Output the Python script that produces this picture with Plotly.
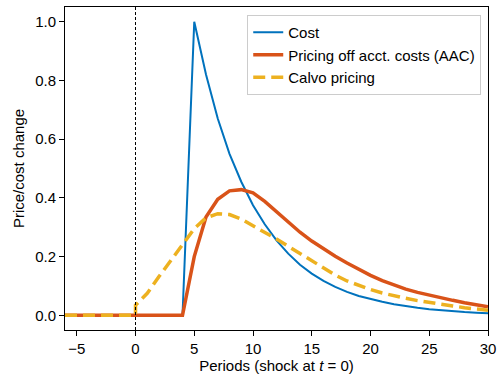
import plotly.graph_objects as go

# Impulse responses to a cost shock at t = 0
periods = list(range(-6, 31))

cost = [0, 0, 0, 0, 0, 0,            # t = -6 .. -1
        0, 0, 0, 0, 0,               # t = 0 .. 4
        1.0, 0.82, 0.67, 0.55, 0.455, 0.375, 0.31, 0.255, 0.21, 0.172,
        0.142, 0.117, 0.097, 0.08, 0.066, 0.055, 0.046, 0.038, 0.031, 0.026,
        0.021, 0.017, 0.014, 0.011, 0.009, 0.007]

aac = [0, 0, 0, 0, 0, 0,
       0, 0, 0, 0, 0,
       0.20, 0.335, 0.395, 0.424, 0.428, 0.417, 0.388, 0.352, 0.316, 0.283,
       0.253, 0.226, 0.201, 0.178, 0.156, 0.136, 0.118, 0.102, 0.089, 0.078,
       0.068, 0.059, 0.051, 0.043, 0.036, 0.029]

# Calvo response: flat before the shock, jumps at t = 0
calvo_pre_t = [-6, 0]
calvo_pre = [0, 0]
calvo_t = list(range(0, 31))
calvo = [0.034, 0.075, 0.132, 0.187, 0.244, 0.295, 0.332, 0.346, 0.343, 0.328,
         0.305, 0.283, 0.26, 0.235, 0.21, 0.186, 0.16, 0.137, 0.117, 0.101,
         0.088, 0.076, 0.066, 0.058, 0.05, 0.043, 0.037, 0.032, 0.026, 0.021,
         0.017]

x_ticks = [-5, 0, 5, 10, 15, 20, 25, 30]
y_ticks = [0.0, 0.2, 0.4, 0.6, 0.8, 1.0]

BLUE = "#0072BD"
ORANGE = "#D95319"
YELLOW = "#EDB120"
FONT = "Liberation Sans, Arial, sans-serif"
FS = 15

fig = go.Figure()
fig.add_trace(go.Scatter(x=periods, y=cost, mode="lines", name="Cost",
                         legendgroup="a",
                         line=dict(color=BLUE, width=2)))
fig.add_trace(go.Scatter(x=periods, y=aac, mode="lines",
                         name="Pricing off acct. costs (AAC)", legendgroup="b",
                         line=dict(color=ORANGE, width=3.5)))
fig.add_trace(go.Scatter(x=calvo_pre_t + calvo_t, y=calvo_pre + calvo,
                         mode="lines", name="Calvo pricing", legendgroup="c",
                         line=dict(color=YELLOW, width=3.5, dash="12px,6px")))

# shock date marker
fig.add_vline(x=0, line=dict(color="black", width=1, dash="3px,2px"),
              layer="above")

axis_common = dict(showline=True, linecolor="black", linewidth=1, mirror=True,
                   ticks="outside", ticklen=5, tickcolor="black", tickwidth=1,
                   showgrid=False, zeroline=False,
                   tickfont=dict(family=FONT, size=FS, color="black"))

fig.update_xaxes(range=[-6, 30], tickvals=x_ticks,
                 title=dict(text="Periods (shock at <i>t</i> = 0)",
                            font=dict(family=FONT, size=FS, color="black"),
                            standoff=4),
                 **axis_common)
fig.update_yaxes(range=[-0.05, 1.05], tickvals=y_ticks, tickformat=".1f",
                 title=dict(text="Price/cost change",
                            font=dict(family=FONT, size=FS, color="black"),
                            standoff=6),
                 **axis_common)

fig.update_layout(
    width=502, height=378,
    margin=dict(l=65, r=12, t=6, b=48),
    plot_bgcolor="white", paper_bgcolor="white",
    font=dict(family=FONT, size=FS, color="black"),
    legend=dict(x=0.984, y=0.975, xanchor="right", yanchor="top",
                bgcolor="rgba(255,255,255,0.8)", bordercolor="#cccccc",
                borderwidth=1, traceorder="grouped", tracegroupgap=0,
                font=dict(family=FONT, size=FS, color="black")),
)

fig.write_html("out.html")
